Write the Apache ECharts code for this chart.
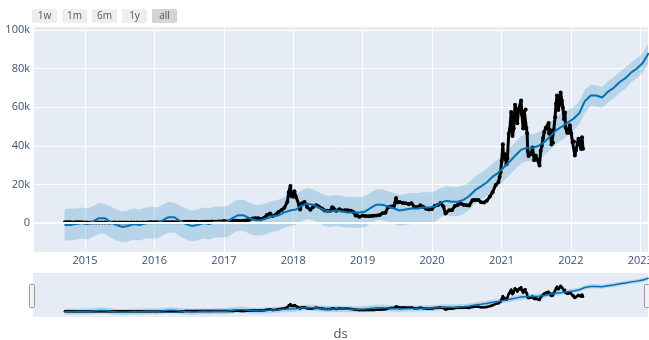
<!DOCTYPE html>
<html><head><meta charset="utf-8">
<script src="https://cdn.jsdelivr.net/npm/echarts@6/dist/echarts.min.js"></script>
<style>html,body{margin:0;padding:0;background:#fff}#c{width:649px;height:340px}</style>
</head><body><div id="c"></div>
<script>
// ---- actual observations (ds, y) ----
const actualDates = ['2014-09-17','2014-10-01','2014-10-15','2014-11-01','2014-11-15','2014-12-01','2014-12-15',
'2015-01-01','2015-01-15','2015-02-01','2015-02-15','2015-03-01','2015-03-15','2015-04-01','2015-04-15','2015-05-01','2015-05-15','2015-06-01','2015-06-15','2015-07-01','2015-07-15','2015-08-01','2015-08-15','2015-09-01','2015-09-15','2015-10-01','2015-10-15','2015-11-01','2015-11-15','2015-12-01','2015-12-15',
'2016-01-01','2016-01-15','2016-02-01','2016-02-15','2016-03-01','2016-03-15','2016-04-01','2016-04-15','2016-05-01','2016-05-15','2016-06-01','2016-06-15','2016-07-01','2016-07-15','2016-08-01','2016-08-15','2016-09-01','2016-09-15','2016-10-01','2016-10-15','2016-11-01','2016-11-15','2016-12-01','2016-12-15',
'2017-01-01','2017-01-15','2017-02-01','2017-02-15','2017-03-01','2017-03-15','2017-04-01','2017-04-15','2017-05-01','2017-05-15','2017-06-01','2017-06-15','2017-07-01','2017-07-15','2017-08-01','2017-08-15','2017-09-01','2017-09-15','2017-10-01','2017-10-15','2017-11-01','2017-11-15','2017-12-01','2017-12-08','2017-12-17','2017-12-22',
'2018-01-01','2018-01-07','2018-01-15','2018-02-01','2018-02-06','2018-02-15','2018-03-01','2018-03-15','2018-04-01','2018-04-15','2018-05-01','2018-05-15','2018-06-01','2018-06-15','2018-07-01','2018-07-15','2018-07-25','2018-08-01','2018-08-15','2018-09-01','2018-09-15','2018-10-01','2018-10-15','2018-11-01','2018-11-15','2018-11-25','2018-12-01','2018-12-15',
'2019-01-01','2019-01-15','2019-02-01','2019-02-15','2019-03-01','2019-03-15','2019-04-01','2019-04-15','2019-05-01','2019-05-15','2019-06-01','2019-06-15','2019-06-26','2019-07-01','2019-07-15','2019-08-01','2019-08-15','2019-09-01','2019-09-15','2019-10-01','2019-10-15','2019-11-01','2019-11-15','2019-12-01','2019-12-15',
'2020-01-01','2020-01-15','2020-02-01','2020-02-15','2020-03-01','2020-03-12','2020-03-15','2020-04-01','2020-04-15','2020-05-01','2020-05-15','2020-06-01','2020-06-15','2020-07-01','2020-07-15','2020-08-01','2020-08-15','2020-09-01','2020-09-15','2020-10-01','2020-10-15','2020-11-01','2020-11-15','2020-12-01','2020-12-16','2020-12-22','2020-12-27',
'2021-01-02','2021-01-08','2021-01-12','2021-01-17','2021-01-22','2021-01-27','2021-02-01','2021-02-08','2021-02-14','2021-02-21','2021-02-28','2021-03-06','2021-03-13','2021-03-20','2021-03-25','2021-04-01','2021-04-08','2021-04-14','2021-04-18','2021-04-25','2021-05-01','2021-05-08','2021-05-12','2021-05-16','2021-05-19','2021-05-23','2021-05-30','2021-06-06','2021-06-13','2021-06-22','2021-06-30','2021-07-08','2021-07-20','2021-07-26','2021-08-01','2021-08-08','2021-08-14','2021-08-22','2021-09-01','2021-09-06','2021-09-08','2021-09-15','2021-09-21','2021-09-29','2021-10-03','2021-10-10','2021-10-15','2021-10-20','2021-10-27','2021-11-01','2021-11-08','2021-11-15','2021-11-20','2021-11-26','2021-12-01','2021-12-04','2021-12-13','2021-12-20','2021-12-27',
'2022-01-03','2022-01-10','2022-01-17','2022-01-22','2022-01-28','2022-02-05','2022-02-10','2022-02-17','2022-02-24','2022-03-01','2022-03-06'];
const actualValues = [457,383,395,325,376,380,347,
315,210,226,234,260,285,247,219,232,237,223,237,258,286,281,261,228,229,238,255,325,320,362,445,
434,375,373,400,435,415,417,430,452,457,537,694,676,664,606,567,572,607,613,638,729,711,756,778,
998,822,989,1009,1222,1245,1099,1180,1421,1722,2407,2442,2434,1929,2718,4200,4892,3637,4403,5690,6767,7871,10975,16000,19140,13831,
13657,16477,13585,9170,7051,10166,10951,8260,6845,8355,9240,8505,7541,6499,6385,6358,8200,7625,6309,7193,6519,6604,6597,6377,5620,3880,4214,3236,
3843,3630,3487,3617,3816,3961,4146,5036,5350,8194,8575,8815,12900,10583,10854,10400,10300,9757,10306,8325,8156,9199,8491,7424,7068,
7200,8820,9393,10367,8563,4970,5360,6640,6640,8864,9377,10167,9453,9232,9132,11759,11911,11970,10796,10619,11503,13737,15955,19700,21300,23800,26300,
32100,40800,33900,35800,33000,30400,33500,46200,48700,57500,45100,48900,61200,58300,51700,58900,58000,63500,56200,49000,57800,58800,49150,46400,37000,34700,35700,35800,39100,32500,35000,32900,29800,37300,39900,44000,47100,49300,48800,51800,46400,48100,40700,41600,48200,54800,61700,66000,58500,61300,67600,63300,59700,53700,57200,49400,46700,46700,50600,
46400,41800,42200,35000,37700,41400,43600,40500,38300,44400,38400];

// ---- Prophet forecast, monthly (thousands), from 2014-09 to 2023-02 ----
const fcFirstMonth = [2014, 9];
const yhat = [-1,-1,-0.5,0,
-0.5,1,2.5,2.5,0.5,-1,-2,-1.5,-0.5,-1,0,0,
0,1.5,3,3,1,-0.5,-1.5,-1,0,-0.5,0.5,0.5,
0.5,2.5,4,4,2.5,1.5,1.5,2.5,3.5,4,5.5,6.5,
7,9,10,9.5,8,6.5,6,6.5,6,5.5,5.5,5.5,
6,8,9.5,9.5,8.5,7.5,6.5,7,7.5,7.5,8,8,
8.5,10.5,11.5,11,11,12,14,17,19,21,24,26,
29,32,35,38,39,39,40,42,45,48,50,52,
54,57,63,66,66,65,68,70,73,75,78,80,
83,88];
const yhatUpper = [7,7.5,7.5,8,
7.5,9,10.5,10,8.5,7,6,6.5,7.5,7,8,8.5,
8,9.5,11,10.5,9,7.5,6.5,7,8,7.5,8.5,8.5,
8.5,10.5,12,12,10.5,9.5,9.5,10.5,11.5,12,13.5,14.5,
15,17,18,17.5,16,14.5,14,14.5,14,13.5,13.5,13.5,
14,16,17.5,17.5,16.5,15.5,14.5,15,15.5,15.5,16,16,
16.5,18,19,18.5,18.5,19.5,21,24,26,28,31,33,
36,39,42,45,46,46,47,49,52,55,57,58.5,
60,63,69,71.5,71.5,70.5,73.5,75.5,78.5,80.5,83,85.5,
88,93.5];
const yhatLower = [-9,-9,-8.5,-8,
-8.5,-7,-5.5,-5.5,-7.5,-9,-10,-9.5,-8.5,-9,-8,-8,
-8,-6.5,-5,-5,-7,-8.5,-9.5,-9,-8,-8.5,-7.5,-7.5,
-7.5,-5.5,-4,-4,-5.5,-6.5,-6.5,-5.5,-4.5,-4,-2.5,-1.5,
-1,1,2,1.5,0,-1.5,-2,-1.5,-2,-2.5,-2.5,-2.5,
-2,0,1.5,1.5,0.5,-0.5,-1.5,-1,-0.5,-0.5,0,0,
0.5,3,4,3.5,3.5,4.5,7,10,12,14,17,19,
22,25,28,31,32,32,33,35,38,41,43,45.5,
48,51,57,60.5,60.5,59.5,62.5,64.5,67.5,69.5,73,75,
78,83];

const rangeButtons = ['1w','1m','6m','1y','all'];
const xMin = '2014-04-02';
const xMax = '2023-02-11';
const yMin = -15000, yMax = 101500;

// build monthly dates for forecast
const fcDates = yhat.map((_, i) => {
  const m0 = fcFirstMonth[1] - 1 + i;
  const y = fcFirstMonth[0] + Math.floor(m0 / 12);
  const m = (m0 % 12) + 1;
  return y + '-' + String(m).padStart(2, '0') + '-15';
});

const actualData = actualDates.map((d, i) => [d, actualValues[i]]);
const yhatData = fcDates.map((d, i) => [d, yhat[i] * 1000]);
const lowerData = fcDates.map((d, i) => [d, yhatLower[i] * 1000]);
const bandData = fcDates.map((d, i) => [d, (yhatUpper[i] - yhatLower[i]) * 1000]);

const FONT = '"Open Sans", verdana, arial, sans-serif';
const TXT = '#3d4f6e';
const BAND = 'rgba(0,114,178,0.2)';
const BLUE = '#0072B2';
const YEAR = 365 * 24 * 3600 * 1000;

function seriesFor(idx, small) {
  return [
    { type: 'line', xAxisIndex: idx, yAxisIndex: idx, data: lowerData, stack: 'band' + idx, stackStrategy: 'all',
      symbol: 'none', lineStyle: { width: 0, opacity: 0 }, silent: true, z: 1,
      markLine: small ? undefined : { silent: true, symbol: 'none', label: { show: false },
        lineStyle: { color: '#ffffff', width: 2, type: 'solid' }, data: [{ yAxis: 0 }] } },
    { type: 'line', xAxisIndex: idx, yAxisIndex: idx, data: bandData, stack: 'band' + idx, stackStrategy: 'all',
      symbol: 'none', lineStyle: { width: 0, opacity: 0 }, areaStyle: { color: BAND, opacity: 1 }, silent: true, z: 2 },
    { type: 'line', xAxisIndex: idx, yAxisIndex: idx, data: actualData, symbol: 'circle', showAllSymbol: true,
      symbolSize: small ? 2.5 : 4, itemStyle: { color: '#000' }, lineStyle: { color: '#000', width: small ? 2.5 : 3 }, z: 3 },
    { type: 'line', xAxisIndex: idx, yAxisIndex: idx, data: yhatData, symbol: 'none',
      lineStyle: { color: BLUE, width: small ? 1.5 : 2 }, z: 4 }
  ];
}

const graphics = [];
rangeButtons.forEach((t, i) => {
  graphics.push({ type: 'rect', left: 32 + i * 30, top: 9, shape: { width: 25, height: 14, r: 1 },
    style: { fill: t === 'all' ? '#d4d4d4' : '#eeeeee' } });
  graphics.push({ type: 'text', x: 32 + i * 30 + 12.5, y: 16,
    style: { text: t, fill: '#555', font: '10px ' + FONT, textAlign: 'center', textVerticalAlign: 'middle' } });
});
[29, 644].forEach(x => {
  graphics.push({ type: 'rect', left: x, top: 284, shape: { width: 5, height: 23, r: 1 },
    style: { fill: '#f2f2f2', stroke: '#999', lineWidth: 1 } });
});

const chart = echarts.init(document.getElementById('c'), null, { renderer: 'canvas' });
chart.setOption({
  animation: false,
  backgroundColor: '#ffffff',
  textStyle: { fontFamily: FONT },
  grid: [
    { left: 33, top: 27, right: 1, height: 225, show: true, backgroundColor: '#E5ECF6', borderWidth: 0,
      containLabel: false, outerBoundsMode: 'none' },
    { left: 33, top: 273, right: 1, height: 44, show: true, backgroundColor: '#E5ECF6', borderWidth: 0,
      containLabel: false, outerBoundsMode: 'none' }
  ],
  xAxis: [
    { type: 'time', gridIndex: 0, min: xMin, max: xMax, minInterval: YEAR, maxInterval: YEAR,
      axisLine: { show: false }, axisTick: { show: false },
      axisLabel: { formatter: '{yyyy}', color: TXT, fontSize: 11, fontFamily: FONT, margin: 3,
        showMinLabel: false, showMaxLabel: false, hideOverlap: false },
      splitLine: { show: true, lineStyle: { color: '#ffffff', width: 1 } } },
    { type: 'time', gridIndex: 1, min: xMin, max: xMax,
      axisLine: { show: false }, axisTick: { show: false }, axisLabel: { show: false }, splitLine: { show: false },
      name: 'ds', nameLocation: 'middle', nameGap: 11,
      nameTextStyle: { color: TXT, fontSize: 13, fontFamily: FONT } }
  ],
  yAxis: [
    { type: 'value', gridIndex: 0, min: yMin, max: yMax, splitNumber: 6,
      axisLine: { show: false }, axisTick: { show: false },
      axisLabel: { color: TXT, fontSize: 11, fontFamily: FONT, margin: 3,
        formatter: v => (v === 0 ? '0' : (v % 20000 === 0 ? (v / 1000) + 'k' : '')) },
      splitLine: { show: true, showMinLine: false, showMaxLine: false, lineStyle: { color: '#ffffff', width: 1 } } },
    { type: 'value', gridIndex: 1, min: yMin, max: yMax,
      axisLine: { show: false }, axisTick: { show: false }, axisLabel: { show: false }, splitLine: { show: false } }
  ],
  series: seriesFor(0, false).concat(seriesFor(1, true)),
  graphic: graphics
});
</script>
</body></html>
